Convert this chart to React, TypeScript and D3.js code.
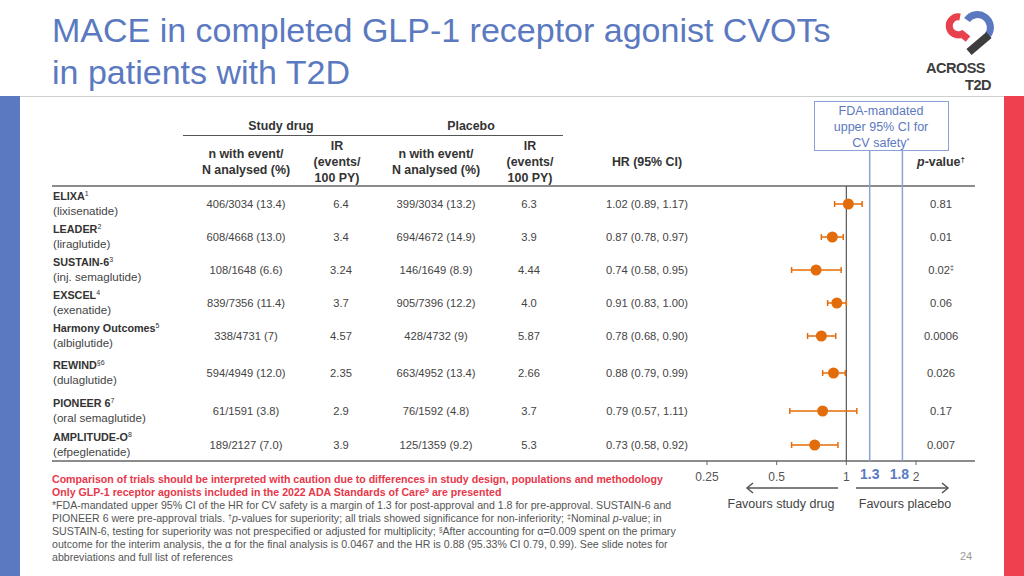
import * as d3 from 'd3'

// trial rows
const trials = ['ELIXA', 'LEADER', 'SUSTAIN-6', 'EXSCEL', 'Harmony Outcomes', 'REWIND', 'PIONEER 6', 'AMPLITUDE-O']
const trialRefs = ['1', '2', '3', '4', '5', '§6', '7', '8']
const drugs = ['lixisenatide', 'liraglutide', 'inj. semaglutide', 'exenatide', 'albiglutide', 'dulaglutide', 'oral semaglutide', 'efpeglenatide']
const drugEvents = ['406/3034 (13.4)', '608/4668 (13.0)', '108/1648 (6.6)', '839/7356 (11.4)', '338/4731 (7)', '594/4949 (12.0)', '61/1591 (3.8)', '189/2127 (7.0)']
const drugIR = ['6.4', '3.4', '3.24', '3.7', '4.57', '2.35', '2.9', '3.9']
const placeboEvents = ['399/3034 (13.2)', '694/4672 (14.9)', '146/1649 (8.9)', '905/7396 (12.2)', '428/4732 (9)', '663/4952 (13.4)', '76/1592 (4.8)', '125/1359 (9.2)']
const placeboIR = ['6.3', '3.9', '4.44', '4.0', '5.87', '2.66', '3.7', '5.3']
const hr = [1.02, 0.87, 0.74, 0.91, 0.78, 0.88, 0.79, 0.73]
const hrLow = [0.89, 0.78, 0.58, 0.83, 0.68, 0.79, 0.57, 0.58]
const hrHigh = [1.17, 0.97, 0.95, 1.0, 0.9, 0.99, 1.11, 0.92]
const pValues = ['0.81', '0.01', '0.02', '0.06', '0.0006', '0.026', '0.17', '0.007']
const pMarks = ['', '', '‡', '', '', '', '', '']

// axis
const xTicks = [0.25, 0.5, 1, 2]
const fdaMargins = [1.3, 1.8]

const FONT = 'Liberation Sans, Arial, sans-serif'
const BLUE = '#5b79c0'
const RED = '#ee4150'
const ORANGE = '#e36c0a'
const TXT = '#444'

export default function App() {
  const x = d3.scaleLog().base(2).domain([0.25, 2]).range([707, 916])
  // rows are not evenly spaced on the slide
  const rowGaps = [33, 33, 33, 33, 37, 38, 34]
  const rowY = Array.from(d3.cumsum([204, ...rowGaps]))
  const tableTop = 186
  const tableBottom = 461
  const fmt = d3.format('.2f')

  const headerStyle = { fontFamily: FONT, fontSize: 12.4, fontWeight: 700, fill: '#333' } as const

  return (
    <svg width={1024} height={576} style={{ position: 'absolute', left: 0, top: 0, background: '#fff' }} fontFamily={FONT}>
      {/* frame */}
      <rect x={0} y={96} width={20} height={480} fill={BLUE} />
      <rect x={1004} y={96} width={20} height={480} fill={RED} />
      <line x1={20} x2={1004} y1={96.5} y2={96.5} stroke="#cfcfcf" />

      {/* title */}
      <text x={52} y={42} fontSize={34} fill={BLUE}>MACE in completed GLP-1 receptor agonist CVOTs</text>
      <text x={52} y={84} fontSize={34} fill={BLUE}>in patients with T2D</text>

      {/* logo */}
      <g>
        <path d="M960,17 A9,9 0 1,0 962,34 L968,39" fill="none" stroke="#e8404c" strokeWidth={7} />
        <path d="M967,20 A11,11 0 1,1 988,35" fill="none" stroke="#5b79c0" strokeWidth={7} />
        <line x1={989} y1={35} x2={969} y2={52} stroke="#3d3d3d" strokeWidth={8} />
        <text x={926} y={73} fontSize={14.5} fontWeight={700} fill="#3d3d3d" letterSpacing={-0.5}>ACROSS</text>
        <text x={991} y={90} fontSize={14.5} fontWeight={700} fill="#3d3d3d" textAnchor="end" letterSpacing={-0.5}>T2D</text>
      </g>

      {/* table header */}
      <text x={281} y={130} textAnchor="middle" style={headerStyle}>Study drug</text>
      <text x={471} y={130} textAnchor="middle" style={headerStyle}>Placebo</text>
      <line x1={183} x2={563} y1={135.5} y2={135.5} stroke="#555" />
      <text textAnchor="middle" style={headerStyle}>
        <tspan x={246} y={158}>n with event/</tspan>
        <tspan x={246} y={174}>N analysed (%)</tspan>
      </text>
      <text textAnchor="middle" style={headerStyle}>
        <tspan x={337} y={150}>IR</tspan>
        <tspan x={337} y={166}>(events/</tspan>
        <tspan x={337} y={182}>100 PY)</tspan>
      </text>
      <text textAnchor="middle" style={headerStyle}>
        <tspan x={436} y={158}>n with event/</tspan>
        <tspan x={436} y={174}>N analysed (%)</tspan>
      </text>
      <text textAnchor="middle" style={headerStyle}>
        <tspan x={530} y={150}>IR</tspan>
        <tspan x={530} y={166}>(events/</tspan>
        <tspan x={530} y={182}>100 PY)</tspan>
      </text>
      <text x={647} y={166} textAnchor="middle" style={headerStyle}>HR (95% CI)</text>
      <text x={941} y={166} textAnchor="middle" style={headerStyle}>
        <tspan fontStyle="italic">p</tspan>-value<tspan fontSize={8} dy={-4}>†</tspan>
      </text>

      {/* FDA box */}
      <rect x={814.5} y={101.5} width={134} height={49} fill="#fff" stroke="#8aa2d4" />
      <text textAnchor="middle" fontSize={12.5} fill={BLUE}>
        <tspan x={881} y={115}>FDA-mandated</tspan>
        <tspan x={881} y={131}>upper 95% CI for</tspan>
        <tspan x={881} y={147}>CV safety<tspan fontSize={8} dy={-4}>*</tspan></tspan>
      </text>

      {/* table lines */}
      <line x1={52} x2={975} y1={tableTop} y2={tableTop} stroke="#666" strokeWidth={1.5} />
      <line x1={52} x2={975} y1={tableBottom} y2={tableBottom} stroke="#666" strokeWidth={1.5} />

      {/* reference lines */}
      <line x1={x(1)} x2={x(1)} y1={tableTop} y2={tableBottom} stroke="#555" strokeWidth={1.2} />
      {fdaMargins.map((m) => (
        <line key={m} x1={x(m) - 3} x2={x(m) - 3} y1={151} y2={tableBottom} stroke="#8aa2d4" strokeWidth={1.5} />
      ))}

      {/* rows */}
      {trials.map((t, i) => {
        const cy = rowY[i]
        return (
          <g key={t} fontSize={11.2} fill={TXT}>
            <text x={53} y={cy - 4} fontWeight={700} fontSize={10.8} fill="#333">
              {t}
              <tspan fontSize={7} dy={-4} fontWeight={400}>{trialRefs[i]}</tspan>
            </text>
            <text x={53} y={cy + 11} fontSize={11.6}>({drugs[i]})</text>
            <text x={246} y={cy + 4} textAnchor="middle">{drugEvents[i]}</text>
            <text x={341} y={cy + 4} textAnchor="middle">{drugIR[i]}</text>
            <text x={436} y={cy + 4} textAnchor="middle">{placeboEvents[i]}</text>
            <text x={529} y={cy + 4} textAnchor="middle">{placeboIR[i]}</text>
            <text x={647} y={cy + 4} textAnchor="middle">
              {`${fmt(hr[i])} (${fmt(hrLow[i])}, ${fmt(hrHigh[i])})`}
            </text>
            <text x={941} y={cy + 4} textAnchor="middle">
              {pValues[i]}
              {pMarks[i] && <tspan fontSize={7} dy={-4}>{pMarks[i]}</tspan>}
            </text>
            {/* CI */}
            <line x1={x(hrLow[i])} x2={x(hrHigh[i])} y1={cy} y2={cy} stroke={ORANGE} strokeWidth={1.5} />
            <line x1={x(hrLow[i])} x2={x(hrLow[i])} y1={cy - 3} y2={cy + 3} stroke={ORANGE} strokeWidth={1.5} />
            <line x1={x(hrHigh[i])} x2={x(hrHigh[i])} y1={cy - 3} y2={cy + 3} stroke={ORANGE} strokeWidth={1.5} />
            <circle cx={x(hr[i])} cy={cy} r={5.5} fill={ORANGE} />
          </g>
        )
      })}

      {/* x axis ticks */}
      {xTicks.map((t) => (
        <g key={t}>
          <line x1={x(t)} x2={x(t)} y1={tableBottom} y2={tableBottom + 4} stroke="#666" />
          <text x={x(t)} y={481} textAnchor="middle" fontSize={12} fill="#555">{t}</text>
        </g>
      ))}
      {fdaMargins.map((m, i) => (
        <text key={m} x={x(m) - 3 - i * 3} y={479} textAnchor="middle" fontSize={14} fontWeight={700} fill={BLUE}>{m}</text>
      ))}

      {/* direction arrows */}
      <g stroke="#555" strokeWidth={1.5} fill="none">
        <line x1={838} x2={747} y1={488} y2={488} />
        <polyline points="753,483 747,488 753,493" />
        <line x1={856} x2={948} y1={488} y2={488} />
        <polyline points="942,483 948,488 942,493" />
      </g>
      <text x={781} y={508} textAnchor="middle" fontSize={12.5} fill={TXT}>Favours study drug</text>
      <text x={905} y={508} textAnchor="middle" fontSize={12.5} fill={TXT}>Favours placebo</text>

      {/* footnotes */}
      <g fontSize={10.6} fontWeight={700} fill="#e8374a">
        <text x={52} y={483}>Comparison of trials should be interpreted with caution due to differences in study design, populations and methodology</text>
        <text x={52} y={496}>
          Only GLP-1 receptor agonists included in the 2022 ADA Standards of Care<tspan fontSize={7} dy={-3}>9</tspan><tspan dy={3}> are presented</tspan>
        </text>
      </g>
      <g fontSize={10.6} fill="#555">
        <text x={52} y={509}>*FDA-mandated upper 95% CI of the HR for CV safety is a margin of 1.3 for post-approval and 1.8 for pre-approval. SUSTAIN-6 and</text>
        <text x={52} y={522}>
          PIONEER 6 were pre-approval trials. <tspan fontSize={7} dy={-3}>†</tspan><tspan dy={3} fontStyle="italic">p</tspan>-values for superiority; all trials showed significance for non-inferiority; <tspan fontSize={7} dy={-3}>‡</tspan><tspan dy={3}>Nominal </tspan><tspan fontStyle="italic">p</tspan>-value; in
        </text>
        <text x={52} y={535}>
          SUSTAIN-6, testing for superiority was not prespecified or adjusted for multiplicity; <tspan fontSize={7} dy={-3}>§</tspan><tspan dy={3}>After accounting for α=0.009 spent on the primary</tspan>
        </text>
        <text x={52} y={548}>outcome for the interim analysis, the α for the final analysis is 0.0467 and the HR is 0.88 (95.33% CI 0.79, 0.99). See slide notes for</text>
        <text x={52} y={561}>abbreviations and full list of references</text>
      </g>

      <text x={966} y={560} textAnchor="middle" fontSize={11} fill="#999">24</text>
    </svg>
  )
}
